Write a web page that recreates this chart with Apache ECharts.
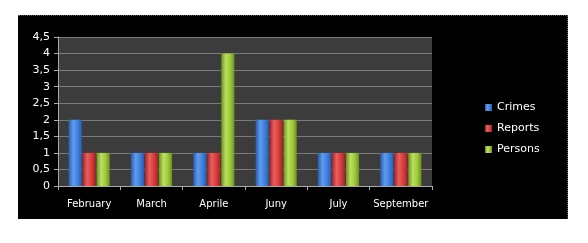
<!DOCTYPE html>
<html><head><meta charset="utf-8">
<script src="https://cdn.jsdelivr.net/npm/echarts@6/dist/echarts.min.js"></script>
<style>
html,body{margin:0;padding:0;background:#fff;width:588px;height:243px;overflow:hidden}
#box{position:absolute;left:18px;top:15px;width:549px;height:203px;background:#000;border-top:1px dotted #555;border-right:1px dotted #555}
#c{position:absolute;left:0;top:0;width:549px;height:203px}
</style></head><body>
<div id="box"><div id="c"></div></div>
<script>
const categories = ['February','March','Aprile','Juny','July','September'];
const crimes = [2,1,1,2,1,1];
const reports = [1,1,1,2,1,1];
const persons = [1,1,4,2,1,1];
const yTicks = ['0','0,5','1','1,5','2','2,5','3','3,5','4','4,5'];

function grad(dark, mid, light){
  return new echarts.graphic.LinearGradient(0,0,1,0,[
    {offset:0,color:dark},{offset:0.35,color:light},{offset:0.7,color:mid},{offset:1,color:dark}
  ]);
}
const font = 'Tahoma, "DejaVu Sans", sans-serif';
const chart = echarts.init(document.getElementById('c'));
chart.setOption({
  backgroundColor:'#000',
  animation:false,
  grid:{left:40,right:135,top:21,bottom:33,show:true,backgroundColor:'#3c3c3c',borderWidth:0},
  legend:{orient:'vertical',left:462,top:81,itemWidth:7,itemHeight:7,itemGap:10,icon:'rect',
    textStyle:{color:'#fff',fontSize:11,fontFamily:font},
    data:['Crimes','Reports','Persons']},
  xAxis:{type:'category',data:categories,
    axisLine:{lineStyle:{color:'#aaa'}},
    axisTick:{show:true,length:4,lineStyle:{color:'#aaa'}},
    axisLabel:{interval:0,color:'#fff',fontSize:10,fontFamily:font,margin:13}},
  yAxis:{type:'value',min:0,max:4.5,interval:0.5,
    axisLine:{show:true,lineStyle:{color:'#aaa'}},
    axisTick:{show:true,length:4,lineStyle:{color:'#aaa'}},
    splitLine:{lineStyle:{color:'#7a7a7a',width:1}},
    axisLabel:{color:'#fff',fontSize:11,fontFamily:font,margin:8,
      formatter:v=>yTicks[Math.round(v*2)]}},
  series:[
    {name:'Crimes',type:'bar',data:crimes,barGap:'6%',barCategoryGap:'34%',
     itemStyle:{color:grad('#2a5cae','#3d7fdc','#5f9cec')}},
    {name:'Reports',type:'bar',data:reports,barGap:'6%',
     itemStyle:{color:grad('#a02626','#d63b3b','#ea5e5e')}},
    {name:'Persons',type:'bar',data:persons,barGap:'6%',
     itemStyle:{color:grad('#6d8e22','#9cc83a','#bce05c')}}
  ]
});
</script></body></html>
